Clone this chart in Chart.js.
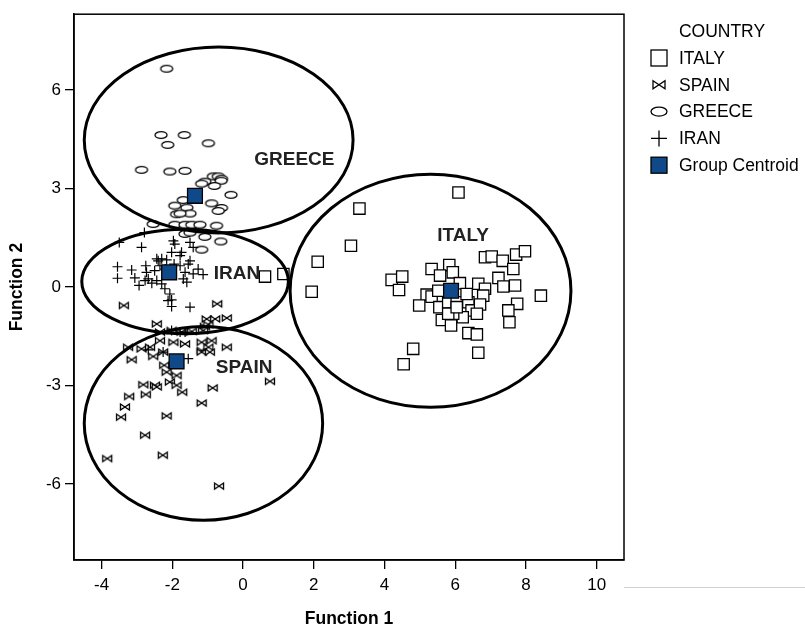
<!DOCTYPE html>
<html>
<head>
<meta charset="utf-8">
<script src="https://cdn.jsdelivr.net/npm/chart.js@4.4.0/dist/chart.umd.min.js"></script>
<style>
  html, body { margin: 0; padding: 0; background: #fff; }
  #wrap { width: 805px; height: 635px; }
</style>
</head>
<body>
<div id="wrap"><canvas id="chart" width="805" height="635"></canvas></div>
<script>
// group names, legend order
const countries = ['ITALY', 'SPAIN', 'GREECE', 'IRAN'];
const centroidLabel = 'Group Centroid';

// discriminant scores (Function 1, Function 2) per case
const italyX = [0.62, 1.14, 2.11, 1.94, 3.05, 6.09, 3.29, 4.20, 4.50, 4.41, 5.33, 5.83, 5.93, 5.57, 6.13, 6.65, 6.84, 6.79,
  5.19, 5.33, 4.98, 5.55, 5.80, 6.04, 6.37, 6.46, 6.70, 6.61, 6.21, 5.94, 5.62, 5.88, 6.37, 6.61, 6.65, 4.81, 4.54,
  6.84, 7.03, 7.34, 7.72, 7.97, 7.64, 7.22, 7.36, 7.69, 7.75, 7.50, 7.53, 8.42, 5.52, 6.32, 5.80, 6.04];
const italyY = [0.32, 0.40, 0.77, -0.14, 1.26, 2.88, 2.39, 0.22, 0.32, -0.09, 0.55, 0.67, 0.45, 0.35, 0.12, 0.10, -0.05, -0.26,
  -0.23, -0.29, -0.56, -0.61, -0.46, -0.46, -0.46, -0.71, -0.53, -0.81, -0.92, -0.81, -1.00, -1.17, -1.40, -1.44, -2.00, -1.88, -2.35,
  0.91, 0.93, 0.80, 0.99, 1.09, 0.55, 0.28, 0.02, 0.05, -0.51, -0.71, -1.07, -0.26, -0.11, -0.21, -0.81, -0.61];

const spainX = [-3.37, -0.73, -1.03, -0.79, -0.46, -2.44, -1.08, -0.98, -2.35, -2.02, -1.74, -1.45, -1.13, -2.35, -1.97, -1.64,
  -1.17, -0.89, -3.25, -2.87, -2.63, -2.26, -1.17, -0.98, -0.46, -1.17, -0.94, -3.15, -2.54, -2.23, -2.16, -1.88, -2.07, -1.88,
  -2.82, -2.49, -2.44, -1.72, -0.86, 0.76, -2.75, -3.22, -3.34, -3.45, -2.16, -1.17, -2.77, -2.27, -3.84, -0.68];
const spainY = [-0.56, -0.51, -0.97, -0.97, -0.94, -1.12, -1.20, -1.14, -1.37, -1.32, -1.37, -1.35, -1.32, -1.63, -1.68, -1.73,
  -1.68, -1.63, -1.83, -1.88, -1.83, -1.98, -1.93, -1.83, -1.83, -1.98, -1.98, -2.21, -2.11, -2.38, -2.59, -2.69, -2.89, -2.99,
  -2.97, -2.99, -3.04, -3.20, -3.07, -2.87, -3.27, -3.33, -3.65, -3.96, -3.92, -3.53, -4.51, -5.12, -5.22, -6.06];

const greeceX = [-2.16, -2.32, -1.66, -2.13, -0.98, -2.87, -2.07, -1.64, -0.84, -0.70, -0.61, -0.62, -1.08, -1.17, -0.81, -0.34,
  -1.69, -0.89, -1.93, -1.59, -0.61, -0.70, -1.88, -1.50, -1.78, -2.54, -1.93, -1.64, -1.45, -1.22, -0.75, -1.08, -0.63, -1.17,
  -1.64, -1.50];
const greeceY = [6.65, 4.63, 4.63, 4.33, 4.38, 3.57, 3.52, 3.54, 3.37, 3.37, 3.30, 3.24, 3.21, 3.15, 3.08, 2.81,
  2.65, 2.55, 2.48, 2.42, 2.41, 2.32, 2.22, 2.24, 2.24, 1.92, 1.90, 1.90, 1.90, 1.90, 1.87, 1.53, 1.39, 1.14,
  1.62, 1.66];

const iranX = [-3.50, -2.87, -2.79, -1.97, -1.93, -1.74, -2.02, -1.50, -1.41, -3.55, -3.55, -3.15, -3.06, -2.94, -2.75, -2.73,
  -2.68, -2.77, -2.58, -2.40, -2.30, -2.16, -2.35, -2.44, -2.30, -2.21, -2.07, -2.02, -2.12, -2.02, -1.50, -1.78, -1.64, -1.69,
  -1.55, -1.41, -1.59, -1.27, -1.13, -1.78, -1.50, -2.44, -2.02, -1.78, -1.64, -1.55, -2.68, -2.26, -2.20, -1.95, -2.50];
const iranY = [1.36, 1.21, 1.66, 1.41, 1.31, 1.06, 1.06, 1.36, 1.21, 0.62, 0.27, 0.52, 0.28, 0.05, 0.65, 0.45,
  0.25, 0.20, 0.12, 0.80, 0.86, 0.83, 0.65, 0.20, 0.10, -0.05, -0.21, -0.39, -0.41, -0.59, -0.61, 0.65, 0.45, 0.25,
  0.70, 0.40, 0.15, 0.55, 0.38, 0.96, 0.80, 0.86, -1.32, -1.37, -1.37, -2.18, -1.91, -1.98, 0.55, 0.70, 0.50];

// group centroids, same order as countries
const centroidX = [5.88, -1.88, -1.36, -2.09];
const centroidY = [-0.11, -2.26, 2.78, 0.45];

// group ellipses (centre and half axes, in function units) and their labels
const ellipseCx = [5.30, -1.12, -0.69, -1.64];
const ellipseCy = [-0.11, -4.15, 4.48, 0.17];
const ellipseRx = [3.97, 3.37, 3.80, 2.92];
const ellipseRy = [3.55, 2.95, 2.83, 1.59];
const groupLabelX = [6.22, 0.03, 1.45, -0.17];
const groupLabelY = [1.56, -2.45, 3.87, 0.41];

const xTicks = [-4, -2, 0, 2, 4, 6, 8, 10];
const yTicks = [-6, -3, 0, 3, 6];
const xRange = [-4.78, 10.77];
const yRange = [-8.31, 8.31];

const FONT = '"Liberation Sans", Arial, sans-serif';

function toPoints(xs, ys) {
    return xs.map((x, i) => ({ x: x, y: ys[i] }));
}

function makeMarker(w, h, drawFn) {
    const c = document.createElement('canvas');
    c.width = w;
    c.height = h;
    const g = c.getContext('2d');
    g.translate(w / 2, h / 2);
    g.lineWidth = 1.3;
    g.strokeStyle = '#000';
    g.fillStyle = '#fff';
    drawFn(g);
    return c;
}

function bowtie(g, w, h) {
    g.beginPath();
    g.moveTo(-w, -h);
    g.lineTo(w, h);
    g.lineTo(w, -h);
    g.lineTo(-w, h);
    g.closePath();
    g.fill();
    g.stroke();
}

function oval(g, rx, ry) {
    g.beginPath();
    g.ellipse(0, 0, rx, ry, 0, 0, Math.PI * 2);
    g.fill();
    g.stroke();
}

const spainMarker = makeMarker(14, 10, g => bowtie(g, 4.5, 3));
const greeceMarker = makeMarker(16, 10, g => oval(g, 6, 3.4));

const frameAndEllipses = {
    id: 'frameAndEllipses',
    afterDatasetsDraw(chart) {
        const ctx = chart.ctx;
        const a = chart.chartArea;
        const xs = chart.scales.x;
        const ys = chart.scales.y;
        ctx.save();
        ctx.beginPath();
        ctx.rect(a.left, a.top, a.right - a.left, a.bottom - a.top);
        ctx.clip();
        ctx.lineWidth = 3;
        ctx.strokeStyle = '#000';
        ellipseCx.forEach((cx, i) => {
            const px = xs.getPixelForValue(cx);
            const py = ys.getPixelForValue(ellipseCy[i]);
            const rx = Math.abs(xs.getPixelForValue(cx + ellipseRx[i]) - px);
            const ry = Math.abs(ys.getPixelForValue(ellipseCy[i] + ellipseRy[i]) - py);
            ctx.beginPath();
            ctx.ellipse(px, py, rx, ry, 0, 0, Math.PI * 2);
            ctx.stroke();
        });
        ctx.fillStyle = '#222';
        ctx.font = 'bold 19px ' + FONT;
        ctx.textAlign = 'center';
        ctx.textBaseline = 'middle';
        countries.forEach((name, i) => {
            ctx.fillText(name, xs.getPixelForValue(groupLabelX[i]), ys.getPixelForValue(groupLabelY[i]));
        });
        ctx.restore();

        // plot frame
        ctx.save();
        ctx.lineWidth = 1.5;
        ctx.strokeStyle = '#000';
        ctx.strokeRect(a.left, a.top, a.right - a.left, a.bottom - a.top);
        ctx.restore();
    }
};

const sideLegend = {
    id: 'sideLegend',
    afterDraw(chart) {
        const ctx = chart.ctx;
        const x0 = chart.chartArea.right;
        ctx.save();
        ctx.fillStyle = '#000';
        ctx.font = '17.5px ' + FONT;
        ctx.textBaseline = 'middle';
        ctx.textAlign = 'center';
        ctx.fillText('COUNTRY', x0 + 98, 32);
        ctx.textAlign = 'left';
        const names = countries.concat([centroidLabel]);
        names.forEach((name, i) => {
            const y = 58 + i * 26.8;
            const ix = x0 + 35;
            ctx.lineWidth = 1.3;
            ctx.strokeStyle = '#000';
            ctx.fillStyle = '#fff';
            if (i === 0) {
                ctx.fillRect(ix - 8, y - 8, 16, 16);
                ctx.strokeRect(ix - 8, y - 8, 16, 16);
            } else if (i === 1) {
                ctx.save(); ctx.translate(ix, y); bowtie(ctx, 6, 4); ctx.restore();
            } else if (i === 2) {
                ctx.save(); ctx.translate(ix, y); oval(ctx, 8, 4.5); ctx.restore();
            } else if (i === 3) {
                ctx.beginPath();
                ctx.moveTo(ix - 8, y); ctx.lineTo(ix + 8, y);
                ctx.moveTo(ix, y - 8); ctx.lineTo(ix, y + 8);
                ctx.stroke();
            } else {
                ctx.fillStyle = '#10498a';
                ctx.fillRect(ix - 8, y - 8, 16, 16);
                ctx.strokeRect(ix - 8, y - 8, 16, 16);
            }
            ctx.fillStyle = '#000';
            ctx.fillText(name, ix + 20, y + 1);
        });
        // faint rule to the right of the plot
        ctx.strokeStyle = '#d0d0d0';
        ctx.lineWidth = 1;
        ctx.beginPath();
        ctx.moveTo(x0, 587.5);
        ctx.lineTo(chart.width, 587.5);
        ctx.stroke();
        ctx.restore();
    }
};

const ctx = document.getElementById('chart').getContext('2d');
const chart = new Chart(ctx, {
    type: 'scatter',
    data: {
        datasets: [
            {
                label: countries[0],
                data: toPoints(italyX, italyY),
                pointStyle: 'rect',
                pointRadius: 8,
                borderColor: '#000',
                backgroundColor: '#fff',
                borderWidth: 1.3,
                order: 4
            },
            {
                label: countries[1],
                data: toPoints(spainX, spainY),
                pointStyle: spainMarker,
                order: 3
            },
            {
                label: countries[2],
                data: toPoints(greeceX, greeceY),
                pointStyle: greeceMarker,
                order: 2
            },
            {
                label: countries[3],
                data: toPoints(iranX, iranY),
                pointStyle: 'cross',
                pointRadius: 5,
                borderColor: '#000',
                borderWidth: 1.2,
                order: 1
            },
            {
                label: centroidLabel,
                data: toPoints(centroidX, centroidY),
                pointStyle: 'rect',
                pointRadius: 10.5,
                borderColor: '#000',
                backgroundColor: '#10498a',
                borderWidth: 1.3,
                order: 0
            }
        ]
    },
    options: {
        responsive: false,
        animation: false,
        devicePixelRatio: 1,
        layout: { padding: { top: 13, right: 181, left: 0, bottom: 0 } },
        plugins: {
            legend: { display: false },
            tooltip: { enabled: false }
        },
        scales: {
            x: {
                type: 'linear',
                min: xRange[0],
                max: xRange[1],
                afterBuildTicks: s => { s.ticks = xTicks.map(v => ({ value: v })); },
                afterFit: s => { s.height = 75; },
                grid: { display: true, drawOnChartArea: false, drawTicks: true, tickLength: 9, color: '#000', lineWidth: 1.3 },
                border: { display: true, color: '#000', width: 1.5 },
                ticks: { color: '#000', padding: 6, font: { family: FONT, size: 17 } },
                title: { display: true, text: 'Function 1', color: '#000', padding: { top: 0, bottom: 5 },
                    font: { family: FONT, size: 17.5, weight: 'bold' } }
            },
            y: {
                type: 'linear',
                min: yRange[0],
                max: yRange[1],
                afterBuildTicks: s => { s.ticks = yTicks.map(v => ({ value: v })); },
                afterFit: s => { s.width = 74; },
                grid: { display: true, drawOnChartArea: false, drawTicks: true, tickLength: 9, color: '#000', lineWidth: 1.3 },
                border: { display: true, color: '#000', width: 1.5 },
                ticks: { color: '#000', padding: 4, font: { family: FONT, size: 17 } },
                title: { display: true, text: 'Function 2', color: '#000', padding: { top: 7, bottom: 0 },
                    font: { family: FONT, size: 17.5, weight: 'bold' } }
            }
        }
    },
    plugins: [frameAndEllipses, sideLegend]
});
</script>
</body>
</html>
